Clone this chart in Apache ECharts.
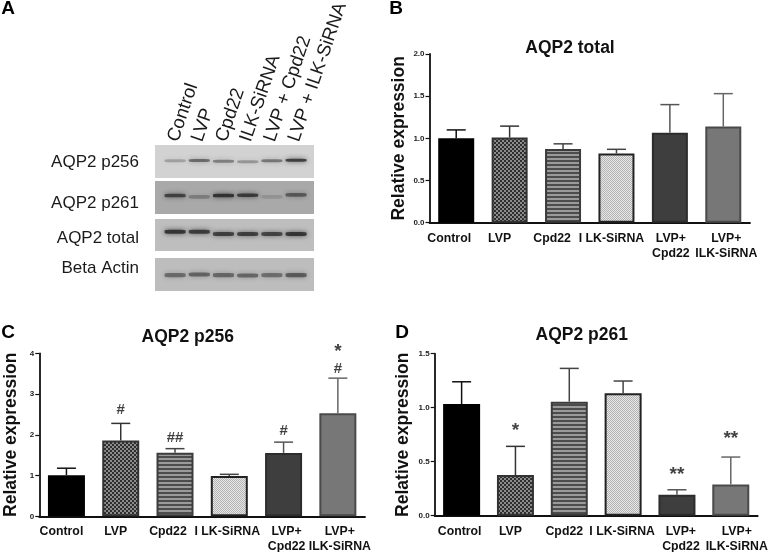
<!DOCTYPE html>
<html>
<head>
<meta charset="utf-8">
<script src="https://cdn.jsdelivr.net/npm/echarts@6/dist/echarts.min.js"></script>
<style>
  html, body { margin: 0; padding: 0; background: #fff; }
  #main { width: 770px; height: 552px; }
</style>
</head>
<body>
<div id="main"></div>
<script>
  const catLabels = ['Control', 'LVP', 'Cpd22', 'I LK-SiRNA', 'LVP+\nCpd22', 'LVP+\nILK-SiRNA'];
  const laneLabels = ['Control', 'LVP', 'Cpd22', 'ILK-SiRNA', 'LVP + Cpd22', 'LVP + ILK-SiRNA'];

  // bar heights and top of error bars
  const totalMean = [1.0, 1.01, 0.875, 0.82, 1.065, 1.14];
  const totalErr = [1.10, 1.145, 0.935, 0.87, 1.40, 1.53];
  const p256Mean = [1.01, 1.86, 1.56, 0.99, 1.555, 2.53];
  const p256Err = [1.18, 2.28, 1.66, 1.03, 1.82, 3.39];
  const p261Mean = [1.034, 0.377, 1.056, 1.133, 0.194, 0.29];
  const p261Err = [1.24, 0.642, 1.364, 1.247, 0.24, 0.543];

  // significance marks, [bar index, height, text]
  const p256Marks = [[1, 2.63, '#'], [2, 1.95, '##'], [4, 2.12, '#'], [5, 3.64, '#'], [5, 4.13, '*']];
  const p261Marks = [[1, 0.82, '*'], [4, 0.42, '**'], [5, 0.745, '**']];

  // blot band darkness per lane (0-1) and band height in the strip (0 bottom, 1 top)
  const blotNames = ['AQP2 p256', 'AQP2 p261', 'AQP2 total', 'Beta Actin'];
  const bandDark = [
    [0.3, 0.62, 0.5, 0.36, 0.55, 0.9],
    [0.8, 0.35, 0.92, 0.88, 0.18, 0.62],
    [0.92, 0.88, 0.85, 0.85, 0.82, 0.92],
    [0.55, 0.6, 0.58, 0.58, 0.52, 0.65]
  ];
  const bandPos = [
    [0.52, 0.53, 0.51, 0.49, 0.52, 0.54],
    [0.56, 0.52, 0.56, 0.57, 0.52, 0.58],
    [0.60, 0.60, 0.53, 0.53, 0.53, 0.53],
    [0.48, 0.5, 0.48, 0.47, 0.48, 0.48]
  ];
  const blotBack = ['#d2d2d2', '#a9a9a9', '#bebebe', '#bdbdbd'];
  const blotBox = [[145, 33], [181, 33], [219, 32], [258, 33]];
  const blotLabelY = [162, 203, 238, 268];
  const bandThick = [3, 3.6, 4, 4.2];

  function tile(size, draw) {
    const c = document.createElement('canvas');
    c.width = size;
    c.height = size;
    draw(c.getContext('2d'));
    return { image: c, repeat: 'repeat' };
  }
  function checker(size, a, b) {
    return tile(size * 2, ctx => {
      ctx.fillStyle = a;
      ctx.fillRect(0, 0, size * 2, size * 2);
      ctx.fillStyle = b;
      ctx.fillRect(0, 0, size, size);
      ctx.fillRect(size, size, size, size);
    });
  }
  const stripes = tile(4, ctx => {
    ctx.fillStyle = '#9a9a9a';
    ctx.fillRect(0, 0, 4, 4);
    ctx.fillStyle = '#4c4c4c';
    ctx.fillRect(0, 0, 4, 2);
  });
  const barFill = ['#000', checker(2, '#8c8c8c', '#2e2e2e'), stripes, checker(1, '#e6e6e6', '#b4b4b4'), '#3e3e3e', '#777'];
  const barEdge = ['#000', '#333', '#3c3c3c', '#222', '#2c2c2c', '#4a4a4a'];
  const errColor = ['#111', '#333', '#444', '#444', '#555', '#666'];

  const font = 'Liberation Sans';
  const panels = [
    { name: 'AQP2 total', mean: totalMean, err: totalErr, marks: [], max: 2, step: 0.5, digits: 1,
      left: 429.5, width: 320.5, top: 54, bottom: 222.7, barW: 36, nameX: 399, titleX: 570, titleY: 48, shift: [-7, -10, -11, -5, 1, 3] },
    { name: 'AQP2 p256', mean: p256Mean, err: p256Err, marks: p256Marks, max: 4, step: 1, digits: 0,
      left: 39.3, width: 325.7, top: 353.3, bottom: 516.3, barW: 37, nameX: 11, titleX: 187.7, titleY: 337, shift: [-5, -5, -7, -2, 3, 2] },
    { name: 'AQP2 p261', mean: p261Mean, err: p261Err, marks: p261Marks, max: 1.5, step: 0.5, digits: 1,
      left: 434.7, width: 323, top: 353.7, bottom: 515.7, barW: 37, nameX: 403, titleX: 581.7, titleY: 335, shift: [-2, -5, -5, -1, 4, 6] }
  ];

  const grids = [], xAxes = [], yAxes = [], series = [], titles = [];

  function errorBar(errs, capW) {
    return function (params, api) {
      const i = api.value(0);
      const base = api.coord([i, api.value(1)]);
      const top = api.coord([i, api.value(2)]);
      const style = { stroke: errColor[i], lineWidth: 1.5, fill: null };
      return {
        type: 'group',
        children: [
          { type: 'line', shape: { x1: base[0], y1: base[1], x2: top[0], y2: top[1] }, style },
          { type: 'line', shape: { x1: top[0] - capW, y1: top[1], x2: top[0] + capW, y2: top[1] }, style }
        ]
      };
    };
  }

  panels.forEach(p => {
    const idx = grids.length;
    grids.push({ left: p.left, top: p.top, width: p.width, height: p.bottom - p.top, outerBoundsMode: 'none' });
    const rich = {};
    p.shift.forEach((s, i) => {
      rich['c' + i] = {
        fontFamily: font, fontWeight: 'bold', fontSize: 12.3, color: '#111', lineHeight: 15,
        padding: s < 0 ? [0, -2 * s, 0, 0] : [0, 0, 0, 2 * s]
      };
    });
    xAxes.push({
      gridIndex: idx, type: 'category', data: catLabels,
      axisLine: { lineStyle: { color: '#111', width: 1.8 } },
      axisTick: { alignWithLabel: true, length: 4, lineStyle: { color: '#111', width: 1.2 } },
      axisLabel: {
        interval: 0, margin: 8, hideOverlap: false,
        formatter: (v, i) => v.split('\n').map(l => '{c' + i + '|' + l + '}').join('\n'),
        rich
      }
    });
    yAxes.push({
      gridIndex: idx, type: 'value', min: 0, max: p.max, interval: p.step,
      name: 'Relative expression', nameLocation: 'middle', nameGap: p.left - p.nameX - 9,
      nameTextStyle: { fontFamily: font, fontWeight: 'bold', fontSize: 17.5, color: '#111' },
      axisLine: { show: true, lineStyle: { color: '#111', width: 1.8 } },
      axisTick: { show: true, length: 4, lineStyle: { color: '#111', width: 1.2 } },
      splitLine: { show: false },
      axisLabel: {
        margin: 5, fontFamily: font, fontWeight: 'bold', fontSize: 8, color: '#222',
        formatter: v => v.toFixed(p.digits)
      }
    });
    series.push({
      type: 'bar', xAxisIndex: idx, yAxisIndex: idx, barWidth: p.barW, silent: true,
      data: p.mean.map((v, i) => ({
        value: v,
        itemStyle: { color: barFill[i], borderColor: barEdge[i], borderWidth: 2 }
      }))
    });
    series.push({
      type: 'custom', xAxisIndex: idx, yAxisIndex: idx, silent: true, clip: false, z: 3,
      renderItem: errorBar(p.err, 9.5),
      encode: { x: 0, y: 2 },
      data: p.mean.map((v, i) => [i, v, p.err[i]])
    });
    if (p.marks.length) {
      series.push({
        type: 'scatter', xAxisIndex: idx, yAxisIndex: idx, silent: true, clip: false, symbolSize: 0, z: 4,
        data: p.marks.map(m => ({
          value: [m[0], m[1]],
          label: {
            show: true, position: 'inside', formatter: m[2], color: '#111', fontFamily: font,
            fontWeight: 'bold',
            fontSize: m[2].includes('*') ? 19 : 15,
            offset: [0, m[2].includes('*') ? 4 : 1]
          }
        }))
      });
    }
    titles.push({
      text: p.name, left: p.titleX, top: p.titleY, padding: 0, textAlign: 'center', textVerticalAlign: 'middle',
      textStyle: { fontFamily: font, fontWeight: 'bold', fontSize: 17.5, color: '#111' }
    });
  });

  // panel A: one strip per antibody, lanes spaced on a value axis so the strip can overrun them
  blotNames.forEach((name, b) => {
    const idx = grids.length;
    const box = blotBox[b];
    grids.push({
      left: 155, top: box[0], width: 159, height: box[1], outerBoundsMode: 'none',
      show: true, backgroundColor: blotBack[b], borderWidth: 0
    });
    xAxes.push({ gridIndex: idx, type: 'value', min: -0.83, max: 5.74, show: false });
    yAxes.push({ gridIndex: idx, type: 'value', min: 0, max: 1, show: false });
    series.push({
      type: 'scatter', xAxisIndex: idx, yAxisIndex: idx, silent: true,
      symbol: 'roundRect', symbolSize: [21, bandThick[b]],
      data: bandDark[b].map((d, i) => ({
        value: [i, bandPos[b][i]],
        itemStyle: {
          color: 'rgba(25,25,25,' + d + ')',
          shadowColor: 'rgba(25,25,25,' + d + ')',
          shadowBlur: 5
        }
      }))
    });
    titles.push({
      text: name, left: 139, top: blotLabelY[b], padding: 0, textAlign: 'right', textVerticalAlign: 'middle',
      textStyle: { fontFamily: font, fontWeight: 'normal', fontSize: 17, color: '#1a1a1a' }
    });
  });

  // lane names sit on their own empty grid above the strips
  const laneIdx = grids.length;
  grids.push({ left: 161, top: 142, width: 145, height: 2, outerBoundsMode: 'none' });
  xAxes.push({
    gridIndex: laneIdx, type: 'category', position: 'top', data: laneLabels,
    axisLine: { show: false }, axisTick: { show: false },
    axisLabel: {
      interval: 0, rotate: 71, margin: 1, hideOverlap: false,
      fontFamily: font, fontSize: 18.7, color: '#1a1a1a'
    }
  });
  yAxes.push({ gridIndex: laneIdx, type: 'value', show: false });
  series.push({ type: 'bar', xAxisIndex: laneIdx, yAxisIndex: laneIdx, silent: true, data: [] });

  [['A', 8, 9], ['B', 396, 9], ['C', 8, 333], ['D', 402, 333]].forEach(l => {
    titles.push({
      text: l[0], left: l[1], top: l[2], padding: 0, textAlign: 'center', textVerticalAlign: 'middle',
      textStyle: { fontFamily: font, fontWeight: 'bold', fontSize: 19, color: '#000' }
    });
  });

  const chart = echarts.init(document.getElementById('main'), null, { renderer: 'canvas' });
  chart.setOption({
    animation: false,
    backgroundColor: '#fff',
    title: titles,
    grid: grids,
    xAxis: xAxes,
    yAxis: yAxes,
    series: series
  });
</script>
</body>
</html>
